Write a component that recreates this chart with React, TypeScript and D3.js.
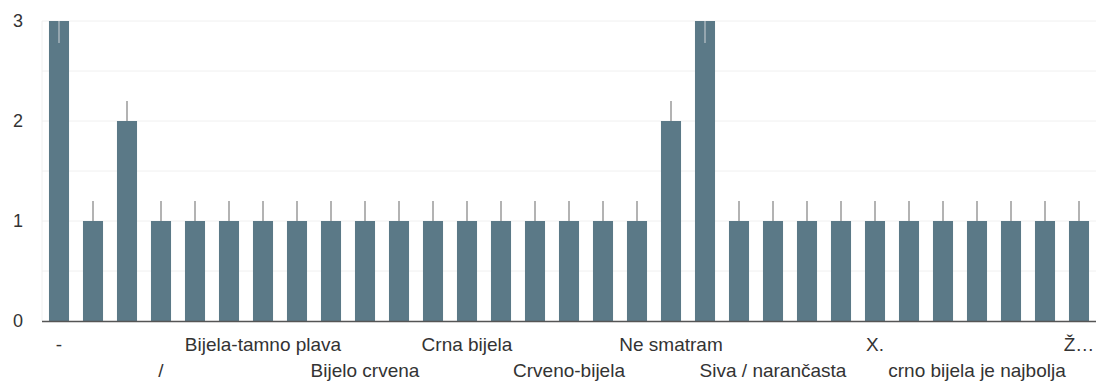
import React from "react";
import * as d3 from "d3";

const categories: string[] = [
  "-", "", "", "/", "", "", "Bijela-tamno plava", "", "", "Bijelo crvena", "", "",
  "Crna bijela", "", "", "Crveno-bijela", "", "", "Ne smatram", "", "",
  "Siva / narančasta", "", "", "X.", "", "", "crno bijela je najbolja", "", "", "Ž…",
];
const values: number[] = [
  3, 1, 2, 1, 1, 1, 1, 1, 1, 1, 1, 1, 1, 1, 1, 1, 1, 1, 2, 3, 1, 1, 1, 1, 1, 1, 1, 1, 1, 1, 1,
];
const errors: number[] = values.map(() => 0.2);
const yTicks: number[] = [0, 1, 2, 3];
const gridValues: number[] = [0.5, 1, 1.5, 2, 2.5, 3];

const W = 1096;
const H = 381;
const M = { left: 42, right: 0, top: 21, bottom: 60 };

export default function App() {
  const x = d3
    .scaleBand<number>()
    .domain(values.map((_, i) => i))
    .range([M.left, W - M.right])
    .paddingInner(0.41)
    .paddingOuter(0.205);
  const y = d3.scaleLinear().domain([0, 3]).range([H - M.bottom, M.top]);
  const font = "'Liberation Sans', Arial, sans-serif";
  return (
    <svg width={W} height={H} style={{ position: "absolute", left: 0, top: 0, background: "#fff" }}>
      {gridValues.map((g) => (
        <line key={g} x1={M.left} x2={W} y1={y(g)} y2={y(g)} stroke="#f0f0f0" strokeWidth={1} />
      ))}
      <line x1={M.left} x2={M.left} y1={M.top} y2={y(0)} stroke="#f0f0f0" />
      {values.map((v, i) => {
        const cx = (x(i) as number) + x.bandwidth() / 2;
        const top = Math.min(v + errors[i], 3);
        const clipped = v + errors[i] > 3;
        return (
          <g key={i}>
            {!clipped && (
              <line x1={cx} x2={cx} y1={y(top)} y2={y(v)} stroke="#9a9a9a" strokeWidth={1.5} />
            )}
            <rect x={x(i)} y={y(v)} width={x.bandwidth()} height={y(0) - y(v)} fill="#5b7987" />
            {clipped && (
              <line x1={cx} x2={cx} y1={y(v)} y2={y(v - errors[i] * 1.1)} stroke="#a9b6bc" strokeWidth={1.5} />
            )}
          </g>
        );
      })}
      <line x1={M.left} x2={W} y1={y(0) + 0.5} y2={y(0) + 0.5} stroke="#555" strokeWidth={1.5} />
      {yTicks.map((t) => (
        <text key={t} x={23} y={y(t)} dy="0.35em" textAnchor="end" fontFamily={font} fontSize={18} fill="#333">
          {t}
        </text>
      ))}
      {categories.map((c, i) =>
        c ? (
          <text
            key={i}
            x={(x(i) as number) + x.bandwidth() / 2}
            y={(i / 3) % 2 === 0 ? 351 : 377}
            textAnchor="middle"
            fontFamily={font}
            fontSize={19}
            fill="#333"
          >
            {c}
          </text>
        ) : null
      )}
    </svg>
  );
}
